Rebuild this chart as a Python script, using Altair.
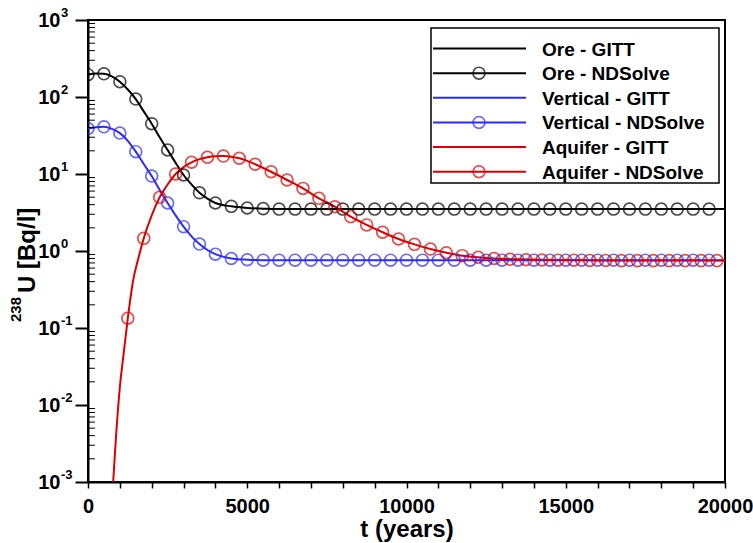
import altair as alt
import pandas as pd

# ---------------- data ----------------
# NDSolve markers: Ore and Vertical every 500 years from 0, Aquifer every 500 years from 1250
t_nd_ore = list(range(0, 20000, 500))
ore_nd = [195, 200, 158, 94, 45, 20.5, 9.7, 5.7, 4.2, 3.8, 3.62, 3.55] + [3.5] * 28
vert_nd = [39, 41, 34, 19.5, 9.4, 4.2, 2.07, 1.23, 0.91, 0.80, 0.77, 0.76] + [0.76] * 28
t_nd_aq = list(range(1250, 20000, 500))
aq_nd = [0.134, 1.46, 4.98, 10, 14.2, 16.5, 17.1, 16.0, 13.4, 10.7, 8.36, 6.5,
         4.83, 3.76, 2.79, 2.18, 1.75, 1.43, 1.22, 1.06, 0.95, 0.87, 0.83, 0.80,
         0.78, 0.77, 0.765, 0.76, 0.76, 0.755, 0.755, 0.75, 0.75, 0.75, 0.75, 0.75, 0.75, 0.75]

# GITT curves
t_gitt = [0, 250, 500, 750, 1000, 1250, 1500, 1750, 2000, 2250, 2500, 2750, 3000,
          3250, 3500, 3750, 4000, 4500, 5000, 5500, 6000, 8000, 10000, 12000,
          14000, 16000, 18000, 20000]
ore_gitt = [195, 202, 200, 185, 158, 125, 94, 65, 45, 30, 20.5, 14, 9.7, 7.3, 5.7,
            4.8, 4.2, 3.8, 3.62, 3.55, 3.5, 3.5, 3.5, 3.5, 3.5, 3.5, 3.5, 3.5]
vert_gitt = [39, 40.5, 41, 38.5, 34, 27, 19.5, 13.5, 9.4, 6.2, 4.2, 2.9, 2.07, 1.55,
             1.23, 1.03, 0.91, 0.80, 0.77, 0.76, 0.76, 0.76, 0.76, 0.76, 0.76, 0.76,
             0.76, 0.76]
t_gitt_aq = [790, 880, 1000, 1100, 1250, 1420, 1580, 1750, 2000, 2250, 2500, 2750,
             3000, 3250, 3500, 3750, 4000, 4250, 4500, 4750, 5000, 5250, 5750, 6250,
             6750, 7250, 7750, 8250, 8750, 9250, 9750, 10250, 10750, 11250, 11750,
             12250, 12750, 13500, 14500, 16000, 18000, 20000]
aq_gitt = [0.001, 0.0039, 0.017, 0.04, 0.134, 0.42, 0.8, 1.46, 2.9, 4.98, 7.3, 10,
           12.3, 14.2, 15.6, 16.5, 17.0, 17.1, 16.8, 16.0, 14.8, 13.4, 10.7, 8.36,
           6.5, 4.83, 3.76, 2.79, 2.18, 1.75, 1.43, 1.22, 1.06, 0.95, 0.87, 0.83,
           0.80, 0.78, 0.765, 0.755, 0.75, 0.75]

series_names = ["Ore", "Vertical", "Aquifer"]
legend_labels = ["Ore - GITT", "Ore - NDSolve", "Vertical - GITT",
                 "Vertical - NDSolve", "Aquifer - GITT", "Aquifer - NDSolve"]
y_tick_values = [1e-3, 1e-2, 1e-1, 1e0, 1e1, 1e2, 1e3]
y_tick_exponents = ["-3", "-2", "-1", "0", "1", "2", "3"]
x_tick_values = list(range(0, 20001, 1000))

# ---------------- styling ----------------
BLACK, BLUE, RED = "#000000", "#2b2bff", "#dd0000"
colors = [BLACK, BLUE, RED]
FONT = "Liberation Sans"
W, H = 637, 462

gitt = pd.concat([
    pd.DataFrame({"t": t_gitt, "v": ore_gitt, "s": "Ore"}),
    pd.DataFrame({"t": t_gitt, "v": vert_gitt, "s": "Vertical"}),
    pd.DataFrame({"t": t_gitt_aq, "v": aq_gitt, "s": "Aquifer"}),
])
nd = pd.concat([
    pd.DataFrame({"t": t_nd_ore, "v": ore_nd, "s": "Ore"}),
    pd.DataFrame({"t": t_nd_ore, "v": vert_nd, "s": "Vertical"}),
    pd.DataFrame({"t": t_nd_aq, "v": aq_nd, "s": "Aquifer"}),
])

xscale = alt.Scale(domain=[0, 20000], nice=False, zero=False)
yscale = alt.Scale(type="log", domain=[1e-3, 1e3], nice=False)
cscale = alt.Scale(domain=series_names, range=colors)

x_axis = alt.Axis(values=x_tick_values, format="d",
                  labelExpr="datum.value % 5000 == 0 ? datum.label : ''",
                  title="t (years)", tickSize=6, tickWidth=1.5, labelPadding=8,
                  labelFontSize=20, titleFontSize=24, titleY=54,
                  titleBaseline="alphabetic", labelFlush=False, labelOverlap=False)
y_axis = alt.Axis(values=y_tick_values, labelExpr="'10'", title="",
                  tickSize=13, tickWidth=2, labelPadding=15, labelFontSize=20,
                  labelBaseline="middle")

lines = alt.Chart(gitt).mark_line(strokeWidth=2, clip=True, interpolate="monotone").encode(
    x=alt.X("t:Q", scale=xscale, axis=x_axis),
    y=alt.Y("v:Q", scale=yscale, axis=y_axis),
    color=alt.Color("s:N", scale=cscale, legend=None),
    detail="s:N",
)
points = alt.Chart(nd).mark_point(shape="circle", filled=False, size=140,
                                  strokeWidth=1.7, clip=True).encode(
    x=alt.X("t:Q", scale=xscale, axis=x_axis),
    y=alt.Y("v:Q", scale=yscale, axis=y_axis),
    color=alt.Color("s:N", scale=cscale, legend=None),
)

# inward minor ticks on the log axis
minor_vals = [m * 10.0 ** k for k in range(-3, 3) for m in range(2, 10)]
minor = alt.Chart(pd.DataFrame({"v": minor_vals})).mark_rule(
    color=BLACK, strokeWidth=1).encode(
    y=alt.Y("v:Q", scale=yscale, axis=y_axis), x=alt.value(0), x2=alt.value(7))

# superscript exponents of the y tick labels
exps = alt.Chart(pd.DataFrame({"v": y_tick_values, "e": y_tick_exponents})).mark_text(
    align="left", baseline="middle", dy=-7, fontSize=13, fontWeight="bold",
    font=FONT, color=BLACK).encode(
    y=alt.Y("v:Q", scale=yscale, axis=y_axis), x=alt.value(-27), text="e:N")

one = pd.DataFrame({"a": [0]})
ytitle_main = alt.Chart(one).mark_text(
    text="U [Bq/l]", angle=270, align="left", baseline="alphabetic",
    fontSize=24, fontWeight="bold", font=FONT, color=BLACK).encode(
    x=alt.value(-53), y=alt.value(273))
ytitle_sup = alt.Chart(one).mark_text(
    text="238", angle=270, align="left", baseline="alphabetic",
    fontSize=15, fontWeight="bold", font=FONT, color=BLACK).encode(
    x=alt.value(-67), y=alt.value(302))

# legend box
leg_left, leg_right, leg_top, leg_bottom = 343, 631, 8, 163
row0, row_step = 28.5, 24.65
legend_layers = [alt.Chart(one).mark_rect(fill="white", stroke=BLACK, strokeWidth=1.5).encode(
    x=alt.value(leg_left), x2=alt.value(leg_right),
    y=alt.value(leg_top), y2=alt.value(leg_bottom))]
for i, lab in enumerate(legend_labels):
    col = colors[i // 2]
    yy = row0 + i * row_step
    legend_layers.append(alt.Chart(one).mark_rule(color=col, strokeWidth=2).encode(
        x=alt.value(leg_left + 2), x2=alt.value(leg_left + 95), y=alt.value(yy)))
    if i % 2 == 1:
        legend_layers.append(alt.Chart(one).mark_point(
            shape="circle", filled=False, size=140, strokeWidth=1.7, color=col).encode(
            x=alt.value(leg_left + 48), y=alt.value(yy)))
    legend_layers.append(alt.Chart(pd.DataFrame({"lab": [lab]})).mark_text(
        align="left", baseline="middle", fontSize=19, fontWeight="bold",
        font=FONT, color=BLACK).encode(
        x=alt.value(leg_left + 111), y=alt.value(yy + 1), text="lab:N"))

chart = alt.layer(lines, points, minor, exps, ytitle_main, ytitle_sup, *legend_layers).properties(
    width=W, height=H,
    autosize=alt.AutoSizeParams(type="none"),
    padding={"left": 88, "top": 20, "right": 28, "bottom": 61},
    background="white",
).configure_view(stroke=BLACK, strokeWidth=2).configure_axis(
    domainColor=BLACK, domainWidth=2, tickColor=BLACK, labelColor=BLACK,
    titleColor=BLACK, labelFont=FONT, titleFont=FONT, labelFontWeight="bold",
    titleFontWeight="bold", grid=False,
)

chart.save("out.html", embed_options={"renderer": "svg", "actions": False})
